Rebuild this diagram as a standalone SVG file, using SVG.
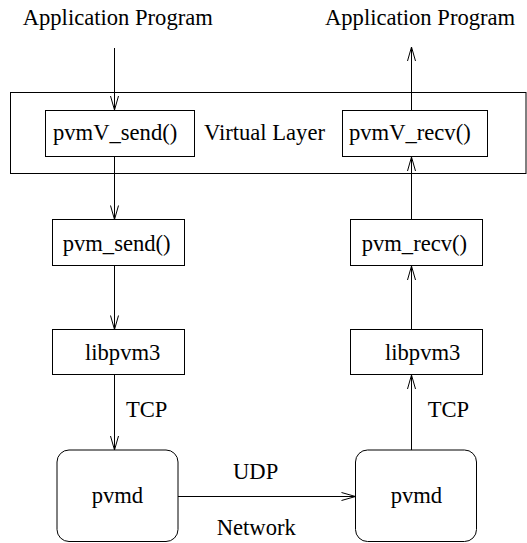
<svg xmlns="http://www.w3.org/2000/svg" width="527" height="543" viewBox="0 0 527 543">
<style>
.box{fill:none;stroke:#000;stroke-width:1}
.ln{fill:none;stroke:#000;stroke-width:1;marker-end:url(#ah)}
text{font-family:"Liberation Serif","Times New Roman",serif;font-size:22.6px;fill:#000}
</style>
<defs>
<marker id="ah" markerUnits="userSpaceOnUse" markerWidth="20" markerHeight="12" viewBox="-15 -6 16 12" refX="0" refY="0" orient="auto">
<path d="M-14,-4 L0,0 L-14,4" fill="none" stroke="#000" stroke-width="1"/>
</marker>
</defs>
<g id="app-left"><text x="22.7" y="25">Application Program</text></g>
<g id="app-right"><text x="325" y="25">Application Program</text></g>
<g id="virtual-layer">
<rect class="box" x="10.5" y="92.5" width="515.5" height="81"/>
<text x="204" y="140">Virtual Layer</text>
</g>
<g id="pvmV_send"><rect class="box" x="45.5" y="110.5" width="149" height="46"/><text x="53" y="140">pvmV_send()</text></g>
<g id="pvmV_recv"><rect class="box" x="342.5" y="110.5" width="145" height="46"/><text x="349" y="140">pvmV_recv()</text></g>
<g id="pvm_send"><rect class="box" x="52.5" y="219.5" width="132" height="46"/><text x="62.7" y="251">pvm_send()</text></g>
<g id="pvm_recv"><rect class="box" x="350.5" y="219.5" width="132" height="46"/><text x="361.7" y="251">pvm_recv()</text></g>
<g id="libpvm3-left"><rect class="box" x="52.5" y="329.5" width="132" height="45"/><text x="85" y="360">libpvm3</text></g>
<g id="libpvm3-right"><rect class="box" x="350.5" y="329.5" width="132" height="45"/><text x="385" y="360">libpvm3</text></g>
<g id="pvmd-left"><rect class="box" x="57" y="450" width="121" height="91.5" rx="12"/><text x="91.7" y="502.7">pvmd</text></g>
<g id="pvmd-right"><rect class="box" x="355.5" y="450" width="121" height="91.5" rx="12"/><text x="390.7" y="502.7">pvmd</text></g>
<g id="connectors">
<path class="ln" d="M114.5,48 V110"/>
<path class="ln" d="M114.5,157 V219.5"/>
<path class="ln" d="M114.5,266 V329.5"/>
<path class="ln" d="M114.5,375 V450"/>
<path class="ln" d="M178,496.5 H355.5"/>
<path class="ln" d="M411.5,450 V375"/>
<path class="ln" d="M411.5,329.5 V266"/>
<path class="ln" d="M411.5,219.5 V157"/>
<path class="ln" d="M411.5,110.5 V47"/>
<text x="126" y="416.7">TCP</text>
<text x="427.7" y="416.7">TCP</text>
<text x="233" y="479">UDP</text>
<text x="216.7" y="535">Network</text>
</g>
</svg>
